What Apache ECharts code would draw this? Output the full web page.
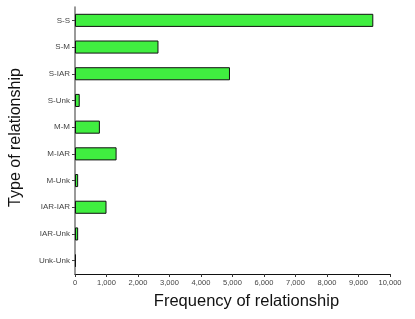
<!DOCTYPE html>
<html><head><meta charset="utf-8">
<script src="https://cdn.jsdelivr.net/npm/echarts@6/dist/echarts.min.js"></script>
<style>html,body{margin:0;padding:0;background:#fff}#c{width:415px;height:319px}</style>
</head><body><div id="c"></div>
<script>
const categories = ['S-S','S-M','S-IAR','S-Unk','M-M','M-IAR','M-Unk','IAR-IAR','IAR-Unk','Unk-Unk'];
const frequency = [9470, 2650, 4920, 150, 790, 1320, 100, 1000, 100, 30];
const xTicks = [0,1000,2000,3000,4000,5000,6000,7000,8000,9000,10000];

const chart = echarts.init(document.getElementById('c'));
chart.setOption({
  animation: false,
  grid: {left: 73, right: 25, top: 7, bottom: 45},
  xAxis: {
    type: 'value', min: xTicks[0], max: xTicks[xTicks.length-1], interval: xTicks[1]-xTicks[0],
    name: 'Frequency of relationship', nameLocation: 'middle', nameGap: 19,
    nameTextStyle: {fontFamily: 'Liberation Sans', fontSize: 16.5, color: '#111', padding: [0,0,0,28]},
    axisLine: {show: true, lineStyle: {color: '#111', width: 1}},
    axisTick: {show: true, length: 3, lineStyle: {color: '#333'}},
    axisLabel: {fontFamily: 'Liberation Sans', fontSize: 7.5, color: '#444', margin: 5,
      formatter: v => v.toLocaleString('en-US')},
    splitLine: {show: false}
  },
  yAxis: {
    type: 'category', data: categories, inverse: true,
    name: 'Type of relationship', nameLocation: 'middle', nameGap: 51,
    nameTextStyle: {fontFamily: 'Liberation Sans', fontSize: 16, color: '#111', padding: [0,0,0,6]},
    axisLine: {show: true, lineStyle: {color: '#777', width: 1.5}},
    axisTick: {show: true, alignWithLabel: true, length: 3, lineStyle: {color: '#444'}},
    axisLabel: {fontFamily: 'Liberation Sans', fontSize: 8, color: '#444', margin: 5},
    splitLine: {show: false}
  },
  series: [{
    type: 'bar', data: frequency, barCategoryGap: '51%',
    itemStyle: {color: '#40ee40', borderColor: '#111', borderWidth: 1}
  }]
});
</script></body></html>
